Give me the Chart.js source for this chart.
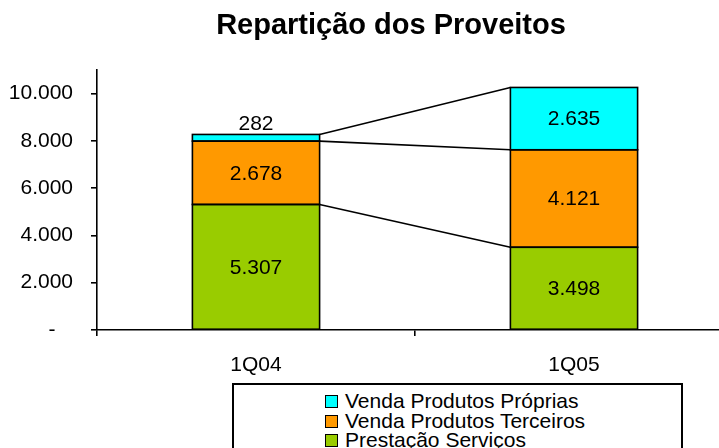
<!DOCTYPE html>
<html>
<head>
<meta charset="utf-8">
<script src="https://cdn.jsdelivr.net/npm/chart.js@4/dist/chart.umd.min.js"></script>
<style>
  html, body { margin: 0; padding: 0; background: #fff; overflow: hidden; }
  #wrap { position: relative; width: 719px; height: 448px; overflow: hidden; }
  #c { position: absolute; left: 0; top: 0; }
  #legend { position: absolute; left: 232px; top: 383px; width: 451px; height: 100px;
            border: 2px solid #000; box-sizing: border-box; background: #fff; }
  .item { position: absolute; left: 0; height: 20px; line-height: 20px; white-space: nowrap;
          font-family: 'Liberation Sans', Arial, sans-serif; font-size: 21px; color: #000; }
  .sw { position: absolute; width: 13px; height: 13px; box-sizing: border-box; border: 1.5px solid #000; }
  .lbl { position: absolute; left: 111px; top: 0; }
</style>
</head>
<body>
<div id="wrap">
  <canvas id="c" width="784" height="448"></canvas>
  <div id="legend"></div>
</div>
<script>
const categories = ['1Q04', '1Q05'];
const seriesNames = ['Prestação Serviços', 'Venda Produtos Terceiros', 'Venda Produtos Próprias'];
const prestacaoServicos = [5307, 3498];
const vendaTerceiros = [2678, 4121];
const vendaProprias = [282, 2635];
const seriesColors = ['#99CC00', '#FF9900', '#00FFFF'];
const yTickValues = [0, 2000, 4000, 6000, 8000, 10000];
const yMax = 11000;
const chartTitle = 'Repartição dos Proveitos';

const FONT = "'Liberation Sans', Arial, sans-serif";
const fmt = v => v === 0 ? '-   ' : String(v).replace(/\B(?=(\d{3})+(?!\d))/g, '.');

const seriesValues = [prestacaoServicos, vendaTerceiros, vendaProprias];

const overlayPlugin = {
  id: 'overlay',
  afterDatasetsDraw(chart) {
    const ctx = chart.ctx;
    ctx.save();
    ctx.strokeStyle = '#000';
    ctx.lineWidth = 1.6;
    // bar outlines
    chart.data.datasets.forEach((ds, i) => {
      chart.getDatasetMeta(i).data.forEach(el => {
        ctx.strokeRect(el.x - el.width / 2, el.y, el.width, el.base - el.y);
      });
    });
    // connector lines between the stacks
    chart.data.datasets.forEach((ds, i) => {
      const els = chart.getDatasetMeta(i).data;
      for (let k = 0; k < els.length - 1; k++) {
        const a = els[k], b = els[k + 1];
        ctx.beginPath();
        ctx.moveTo(a.x + a.width / 2, a.y);
        ctx.lineTo(b.x - b.width / 2, b.y);
        ctx.stroke();
      }
    });
    // data labels
    ctx.fillStyle = '#000';
    ctx.font = '21px ' + FONT;
    ctx.textAlign = 'center';
    ctx.textBaseline = 'middle';
    chart.data.datasets.forEach((ds, i) => {
      chart.getDatasetMeta(i).data.forEach((el, k) => {
        const h = Math.abs(el.base - el.y);
        const txt = fmt(ds.data[k]);
        if (h < 24) ctx.fillText(txt, el.x, el.y - 10);
        else ctx.fillText(txt, el.x, (el.y + el.base) / 2 + 1);
      });
    });
    ctx.restore();
  }
};

new Chart(document.getElementById('c'), {
  type: 'bar',
  data: {
    labels: categories,
    datasets: seriesNames.map((name, i) => ({
      label: name,
      data: seriesValues[i],
      backgroundColor: seriesColors[i],
      borderWidth: 0,
      barPercentage: 0.4,
      categoryPercentage: 1.0
    }))
  },
  options: {
    responsive: false,
    animation: false,
    devicePixelRatio: 1,
    layout: { padding: { left: 10, right: 12, top: 0, bottom: 0 } },
    plugins: {
      legend: { display: false },
      tooltip: { enabled: false },
      title: {
        display: true,
        text: chartTitle,
        color: '#000',
        font: { family: FONT, size: 29, weight: 'bold' },
        padding: { top: 9, bottom: 26 }
      }
    },
    scales: {
      x: {
        stacked: true,
        offset: true,
        grid: { display: true, drawOnChartArea: false, drawTicks: true, tickLength: 6, color: '#000', lineWidth: 1.6, offset: true },
        border: { display: true, color: '#000', width: 1.6 },
        ticks: { color: '#000', font: { family: FONT, size: 21 }, padding: 17, maxRotation: 0 },
        afterFit(scale) { scale.height = 118; }
      },
      y: {
        stacked: true,
        min: 0,
        max: yMax,
        grid: { display: true, drawOnChartArea: false, drawTicks: true, tickLength: 6, color: '#000', lineWidth: 1.6 },
        border: { display: true, color: '#000', width: 1.6 },
        ticks: { color: '#000', font: { family: FONT, size: 21 }, padding: 18, callback: v => fmt(v) },
        afterBuildTicks(scale) { scale.ticks = yTickValues.map(v => ({ value: v })); },
        afterFit(scale) { scale.width = 87; }
      },
      yRight: {
        position: 'right',
        display: true,
        grid: { display: false },
        border: { display: false },
        ticks: { display: false },
        afterFit(scale) { scale.width = 39; }
      }
    }
  },
  plugins: [overlayPlugin]
});

// legend (reverse order, like the reference)
const legend = document.getElementById('legend');
[2, 1, 0].forEach((si, r) => {
  const row = document.createElement('div');
  row.className = 'item';
  row.style.top = (6 + r * 19.7) + 'px';
  row.style.width = '100%';
  const sw = document.createElement('div');
  sw.className = 'sw';
  sw.style.left = '91px';
  sw.style.top = '4px';
  sw.style.background = seriesColors[si];
  const lbl = document.createElement('span');
  lbl.className = 'lbl';
  lbl.textContent = seriesNames[si];
  row.appendChild(sw);
  row.appendChild(lbl);
  legend.appendChild(row);
});
</script>
</body>
</html>
